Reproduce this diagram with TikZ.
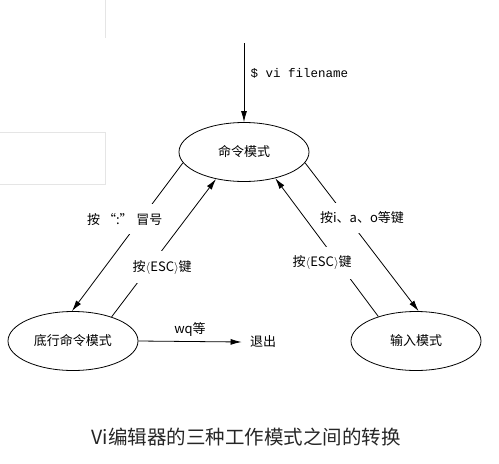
\documentclass[tikz,border=0pt]{standalone}
\usepackage{fontspec}
\newfontfamily\cjk{Noto Sans CJK SC}
\newfontfamily\codefont{Liberation Mono}
\usetikzlibrary{shapes.geometric,arrows.meta}
\begin{document}
\begin{tikzpicture}[x=1pt,y=-1pt,thick,>={Latex[length=11pt,width=6pt]},
	mode/.style={ellipse,draw,minimum width=130pt,minimum height=59pt,inner sep=0pt,font=\cjk\fontsize{13}{15}\selectfont},
	lbl/.style={fill=white,inner xsep=1pt,inner ysep=9pt,font=\cjk\fontsize{13}{15}\selectfont}]
	
	\useasboundingbox (0,0) rectangle (499,464);
	
	% faint frame at the left edge
	\draw [gray!20,thin] (105,0) -- (105,38);
	\draw [gray!20,thin] (0,132) -- (105,132) -- (105,184) -- (0,184);
	
	\node [mode] (cmd) at (244,152) {命令模式};
	\node [mode] (last) at (73,341) {底行命令模式};
	\node [mode] (input) at (416,341) {输入模式};
	\node [font=\cjk\fontsize{13}{15}\selectfont, inner xsep=8pt] (quit) at (263,342) {退出};
	\coordinate (start) at (244,43);
	
	\draw [->] (start) -- node[right, pos=.39, xshift=3pt, font=\codefont\fontsize{12.5}{14}\selectfont] {\$ vi filename} (cmd.north);
	
	\draw [->] (cmd.190) -- node[lbl, pos=.38, xshift=-16pt] {按 “:” 冒号} (last.92);
	\draw [->] (last.32) -- node[lbl, pos=.36, xshift=13pt] {按$\langle$ESC$\rangle$键} (cmd.224);
	
	\draw [->] (cmd.350) -- node[lbl, pos=.37, xshift=15pt] {按i、a、o等键} (input.85);
	\draw [->] (input.147) -- node[lbl, pos=.39, xshift=-16pt] {按$\langle$ESC$\rangle$键} (cmd.320);
	
	\draw [->] (last.east) -- node[above=1pt, font=\cjk\fontsize{13}{15}\selectfont] {wq等} (quit.west);
	
	\node [font=\cjk\fontsize{19.5}{22}\selectfont, text=black!85] (caption) at (246,437) {Vi编辑器的三种工作模式之间的转换};
	
\end{tikzpicture}
\end{document}
